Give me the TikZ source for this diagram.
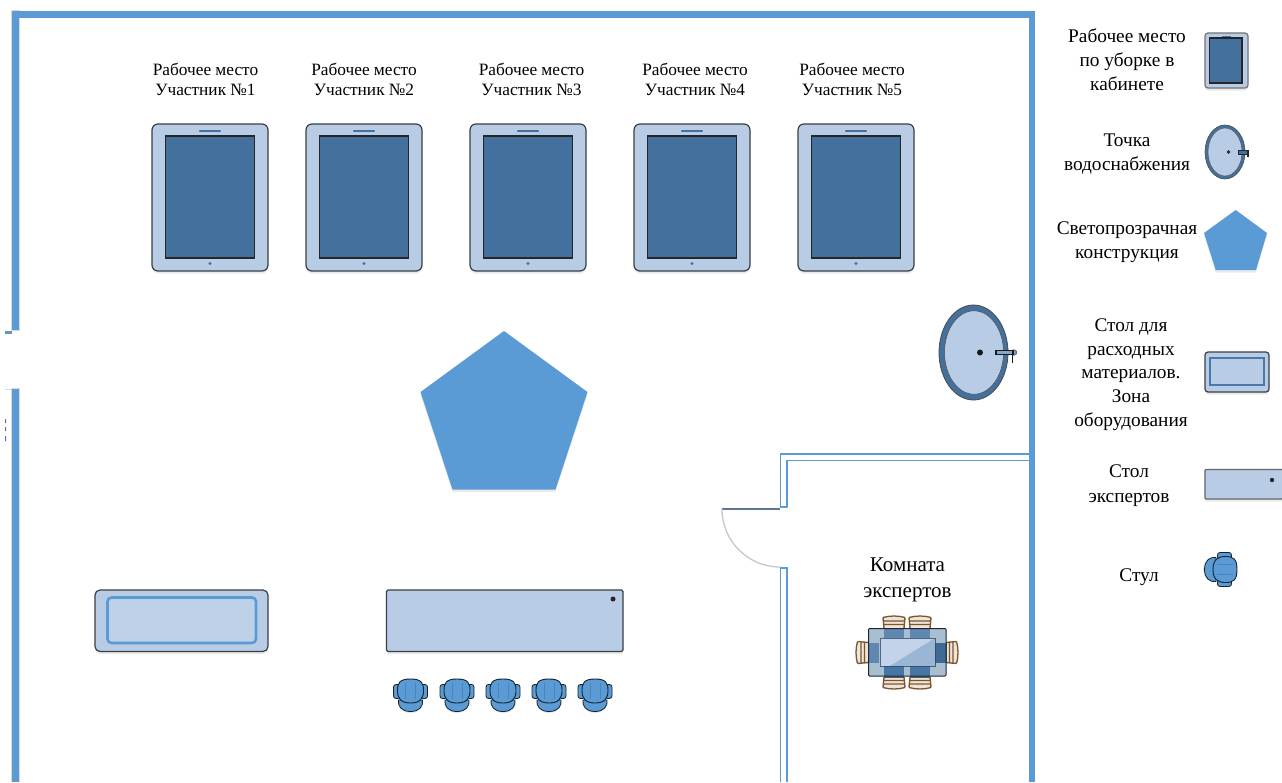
\documentclass[tikz,border=0pt]{standalone}
\usepackage{fontspec}
\setmainfont{Liberation Serif}
\usetikzlibrary{shadows}
\definecolor{wallblue}{HTML}{5B9BD5}
\definecolor{paleblue}{HTML}{B8CCE6}
\definecolor{deepblue}{HTML}{44709D}
\definecolor{edgegrey}{HTML}{3A3F45}
\definecolor{wood}{HTML}{7A5634}
\definecolor{woodlight}{HTML}{EFE4D6}
\tikzset{
  softshadow/.style={drop shadow={opacity=.16,shadow xshift=0pt,shadow yshift=-2.5pt}},
  wall/.style={fill=wallblue,draw=none},
  thinwall/.style={draw=wallblue,line width=1.5pt},
  panel/.style={fill=paleblue,draw=edgegrey,line width=1.2pt},
  screen/.style={fill=deepblue,draw=black!85,line width=1.2pt},
  chairpart/.style={fill=wallblue,draw=black!70!deepblue,line width=.8pt},
  lbl/.style={align=center,inner sep=0pt,font=\fontsize{17.3}{20}\selectfont,text=black},
  lbb/.style={align=center,inner sep=0pt,font=\fontsize{19.3}{24}\selectfont,text=black},
}
\newcommand{\tabletdev}[1]{%
  \begin{scope}[shift={(#1,124)}]
    \draw[panel,rounded corners=6,softshadow] (0,0) rectangle (116,147);
    \draw[screen] (13.5,12) rectangle (102.5,134);
    \draw[deepblue,line width=2.4pt,line cap=round] (48,7) -- (68,7);
    \fill[deepblue] (58,139.5) circle (1.7);
  \end{scope}}
\newcommand{\officechair}[3]{%
  \begin{scope}[shift={(#1,#2)},rotate=#3]
    \fill[black,opacity=.10] (-11,13) .. controls (-8,21) and (8,21) .. (11,13) -- cycle;
    \draw[chairpart] (-12,6) .. controls (-13,12) and (-9,17.5) .. (0,17.5) .. controls (9,17.5) and (13,12) .. (12,6) -- cycle;
    \draw[chairpart,rounded corners=2.5] (-17,-9.5) rectangle (-10,4.5);
    \draw[chairpart,rounded corners=2.5] (10,-9.5) rectangle (17,4.5);
    \draw[chairpart,line width=.9pt] (0,-15) .. controls (11,-15) and (13,-11) .. (13,-3.5)
      .. controls (13,4) and (10,9) .. (0,9) .. controls (-10,9) and (-13,4) .. (-13,-3.5)
      .. controls (-13,-11) and (-11,-15) .. cycle;
    \draw[wallblue!85!black,line width=.3pt] (-5,-11) -- (-5,5) (5,-11) -- (5,5);
  \end{scope}}
\newcommand{\dinechair}[4]{%
  \begin{scope}[shift={(#1,#2)},rotate=#3]
    \fill[#4] (-10,0) rectangle (10,11);
    \fill[woodlight] (-10,-12) rectangle (10,0);
    \draw[wood,line width=1.3pt] (-11,-10.5) .. controls (-4,-12.5) and (4,-12.5) .. (11,-10.5)
      (-10.8,-7) -- (10.8,-7) (-10.4,-3.5) -- (10.4,-3.5);
    \draw[wood,line width=1.4pt] (-11,-10.5) -- (-10,0) (11,-10.5) -- (10,0);
    \draw[black!65,line width=1pt] (-10,0) -- (10,0);
  \end{scope}}
\begin{document}
\begin{tikzpicture}[x=1pt,y=-1pt]
\useasboundingbox (0,0) rectangle (1282,782);
\fill[white] (0,0) rectangle (1282,782);

% outer walls
\fill[black!15] (10.8,10) rectangle (19.6,331);
\fill[black!15] (10.8,388) rectangle (19.6,782);
\draw[wall] (11.8,10.5) rectangle (18.6,330);
\draw[wall] (11.8,389) rectangle (18.6,782);
\draw[wall] (11.8,10.5) rectangle (1035,18);
\draw[wall] (1029,10.5) rectangle (1035,782);
\fill[wallblue!75!gray] (5,331) rectangle (12,333.5);
\fill[black!15] (5,388.5) rectangle (12,390);
\fill[blue!65!black,opacity=.6] (5,419) rectangle (6,423) (5,427) rectangle (6,431) (5,436) rectangle (6,441);

% expert room walls
\draw[thinwall] (780.7,507) -- (780.7,454) -- (1029,454);
\draw[thinwall] (787.2,507) -- (787.2,460.7) -- (1029,460.7);
\draw[thinwall,line width=2pt,line cap=round] (780.7,507) -- (787.2,507);
\draw[thinwall] (780.7,782) -- (780.7,568) -- (787.2,568) -- (787.2,782);
\draw[black!45!wallblue!80,line width=2pt] (722,509) -- (780,509);
\draw[black!22,line width=1.3pt] (722,509) .. controls (722,541) and (748,567) .. (780,567);

% workplaces
\foreach \px in {152,306,470,634,798} {\tabletdev{\px}}
\node[lbl] (w1) at (205.5,79) {Рабочее место\\Участник №1};
\node[lbl] (w2) at (364,79) {Рабочее место\\Участник №2};
\node[lbl] (w3) at (531.5,79) {Рабочее место\\Участник №3};
\node[lbl] (w4) at (695,79) {Рабочее место\\Участник №4};
\node[lbl] (w5) at (852,79) {Рабочее место\\Участник №5};

% pentagon
\fill[wallblue,softshadow] (504,331) -- (587.5,392) -- (555.5,489.5) -- (452.5,489.5) -- (420.5,392) -- cycle;

% basin
\draw[fill=deepblue,draw=black!70,line width=.8pt] (973.5,352.5) ellipse [x radius=34.5,y radius=47.5];
\draw[fill=paleblue,draw=black!70,line width=.5pt] (974,352.5) ellipse [x radius=29.5,y radius=41.7];
\fill[black!90] (980,352.5) circle (3);
\draw[fill=deepblue!70,draw=black!70,line width=.5pt] (1014,352.5) circle (2.8);
\draw[fill=paleblue!60!deepblue,draw=black!90,line width=1.1pt] (996,350.5) rectangle (1013,354.5);
\draw[black!90,line width=1.5pt] (1012.5,350) -- (1012.5,363);

% equipment table
\draw[panel,rounded corners=5,softshadow] (95,590) rectangle (268,651.5);
\draw[wallblue,line width=2.6pt,rounded corners=4,fill=paleblue!92!white] (107.5,597.5) rectangle (256,643);

% experts table
\draw[panel,rounded corners=1.5,softshadow] (386.5,590) rectangle (623,651.5);
\fill[black!85] (613,599) circle (2.5);

% chairs
\foreach \cx in {410.5,457,503,549,595} {\officechair{\cx}{694}{0}}

% expert room
\node[lbb,font=\fontsize{21}{26}\selectfont] (room) at (907.5,579.5) {Комната\\экспертов};
\dinechair{894}{628}{0}{deepblue!55!paleblue}
\dinechair{920}{628}{0}{deepblue!55!paleblue}
\dinechair{894}{677}{180}{wallblue!80!black}
\dinechair{920}{677}{180}{wallblue!80!black}
\dinechair{868}{652.5}{90}{deepblue!55!paleblue}
\dinechair{946}{652.5}{-90}{deepblue!90!black}
\draw[fill=deepblue,fill opacity=.45,draw=black!65!deepblue,line width=1pt,rounded corners=1] (868.5,628.5) rectangle (946,676);
\fill[paleblue!85!white] (880,638) rectangle (935,666);
\fill[paleblue!75!deepblue] (935,638) -- (935,666) -- (890,666) -- cycle;
\draw[black!40!deepblue,opacity=.75,line width=1pt] (880,638) rectangle (935,666);

% legend
\begin{scope}[shift={(1205,33)}]
  \draw[fill=paleblue,draw=black!55,line width=1.2pt,rounded corners=3,softshadow] (0,0) rectangle (43,55);
  \draw[screen] (4.5,5) rectangle (37,50);
  \draw[deepblue,line width=1pt] (17,3) -- (26,3);
\end{scope}
\draw[fill=deepblue,draw=black!70,line width=.6pt] (1225,152) ellipse [x radius=20,y radius=27];
\draw[fill=paleblue,draw=black!70,line width=.4pt] (1225,152) ellipse [x radius=17,y radius=24];
\fill[black!85] (1228.5,152) circle (1.8);
\draw[fill=deepblue,draw=black!85,line width=.8pt] (1238,150.5) rectangle (1248.5,154);
\draw[black!85,line width=1.3pt] (1248,150) -- (1248,157);
\fill[wallblue,softshadow] (1235.7,210) -- (1267,233) -- (1256,270) -- (1215.7,270) -- (1204,233) -- cycle;
\draw[panel,rounded corners=3,softshadow] (1205,352) rectangle (1269,392);
\draw[deepblue!80!wallblue,line width=1.3pt] (1210,358) rectangle (1264,385);
\draw[panel,draw=black!60,rounded corners=1,softshadow] (1205,469.5) rectangle (1283,499);
\fill[black!85] (1272,480) circle (2.2);
\officechair{1222}{569.5}{-90}

\node[lbb] (l1) at (1127,60) {Рабочее место\\по уборке в\\кабинете};
\node[lbb] (l2) at (1127,154.5) {Точка\\водоснабжения};
\node[lbb] (l3) at (1127,242.5) {Светопрозрачная\\конструкция};
\node[lbb,font=\fontsize{19.3}{23.7}\selectfont] (l4) at (1131,374.5) {Стол для\\расходных\\материалов.\\Зона\\оборудования};
\node[lbb,font=\fontsize{19.3}{25}\selectfont] (l5) at (1129,486) {Стол\\экспертов};
\node[lbb] (l6) at (1139,577) {Стул};
\end{tikzpicture}
\end{document}
